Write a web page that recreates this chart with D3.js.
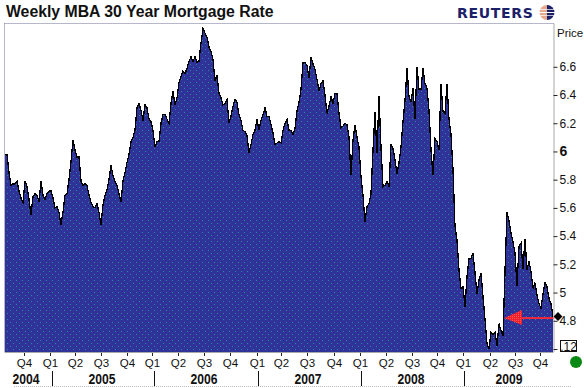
<!DOCTYPE html>
<html>
<head>
<meta charset="utf-8">
<script src="https://cdn.jsdelivr.net/npm/d3@7"></script>
<style>
body { margin: 0; background: #fff; }
text { font-family: "Liberation Sans", Arial, sans-serif; fill: #111; }
</style>
</head>
<body>
<div id="chart"><svg></svg></div>
<script>
// weekly rate
const rates = [
  5.98,5.98,5.85,5.76,5.77,5.77,5.79,5.72,5.67,5.64,5.79,5.75,5.66,5.55,5.68,5.70,
  5.69,5.64,5.79,5.69,5.66,5.70,5.72,5.72,5.67,5.60,5.61,5.57,5.48,5.57,5.69,5.70,
  5.80,5.93,6.08,6.01,5.96,5.96,5.79,5.76,5.77,5.76,5.69,5.64,5.61,5.60,5.63,5.57,
  5.48,5.62,5.69,5.73,5.80,5.90,5.83,5.79,5.76,5.70,5.64,5.79,5.85,5.92,5.98,6.07,
  6.10,6.15,6.31,6.34,6.29,6.22,6.33,6.31,6.23,6.21,6.15,6.03,6.07,6.07,6.20,6.26,
  6.26,6.23,6.20,6.34,6.43,6.33,6.38,6.49,6.53,6.57,6.55,6.59,6.64,6.67,6.64,6.67,
  6.63,6.64,6.77,6.87,6.84,6.81,6.74,
  6.71,6.65,6.50,6.54,6.41,6.38,6.33,6.34,6.37,6.20,6.25,6.32,6.37,6.35,6.26,6.22,
  6.15,6.14,6.11,5.99,6.05,6.12,6.15,6.23,6.15,6.22,6.26,6.31,6.25,6.25,6.19,6.13,
  6.05,6.06,6.07,6.06,6.15,6.20,6.23,6.15,6.15,6.12,6.16,6.29,6.35,6.44,6.63,6.63,
  6.61,6.52,
  6.67,6.62,6.58,6.51,6.43,6.48,6.50,6.40,6.27,6.32,6.39,6.34,6.41,6.41,6.27,6.17,
  6.18,6.20,6.19,6.10,5.83,6.08,6.19,6.10,6.03,5.82,5.69,5.50,5.61,5.63,5.70,6.01,
  6.28,5.99,6.39,6.03,5.75,5.76,5.79,5.75,6.05,6.02,5.94,5.84,5.92,6.03,6.21,6.36,
  6.59,6.39,
  6.35,6.45,6.23,6.60,6.44,6.44,6.59,6.48,6.45,6.29,6.01,5.83,6.09,6.07,6.01,6.48,
  6.28,6.27,6.48,6.23,6.12,5.87,5.47,5.37,5.16,5.03,5.04,4.90,5.11,5.24,5.24,5.28,
  5.14,4.99,5.09,5.14,4.97,4.81,4.64,4.60,4.72,4.70,4.72,4.62,4.78,
  4.73,4.69,5.15,5.57,5.51,5.42,5.36,5.28,5.05,5.33,5.35,5.17,5.38,5.16,5.22,5.15,
  5.03,5.07,4.98,4.92,4.89,4.99,5.07,5.04,4.96,4.92,4.83
];

const priceTicks = [6.6, 6.4, 6.2, 6, 5.8, 5.6, 5.4, 5.2, 5, 4.8, 4.6];
const quarterLabels = ["Q4","Q1","Q2","Q3","Q4","Q1","Q2","Q3","Q4","Q1","Q2","Q3","Q4","Q1","Q2","Q3","Q4","Q1","Q2","Q3","Q4"];
const quarterWeeks = [9.5,22.5,35,48,61,73.5,86.5,99.5,112.5,126,138,151,164.5,177.5,190.5,203.5,216,229,242.5,255,267.5];
const yearLabels = ["2004","2005","2006","2007","2008","2009"];
const yearWeeks = [10.5,48.5,99.5,151.5,203,252];
const yearBreaks = [23.25,74.25,126.5,178,229.5];

const width = 584, height = 388;
const plotLeft = 4.5, plotRight = 553.5, plotTop = 23.5, plotBottom = 352;

const svg = d3.select("#chart").select("svg")
  .attr("width", width).attr("height", height)
  .style("display", "block");

// dotted blue fill
const defs = svg.append("defs");
const pat = defs.append("pattern").attr("id", "dots")
  .attr("width", 6).attr("height", 6).attr("patternUnits", "userSpaceOnUse");
pat.append("rect").attr("width", 6).attr("height", 6).attr("fill", "#2f3298");
pat.append("rect").attr("x", 1).attr("y", 1).attr("width", 1).attr("height", 1).attr("fill", "#2a8a96");
pat.append("rect").attr("x", 4).attr("y", 4).attr("width", 1).attr("height", 1).attr("fill", "#2a8a96");

// dithered red for the arrow head
const redPat = defs.append("pattern").attr("id", "reddots")
  .attr("width", 2).attr("height", 2).attr("patternUnits", "userSpaceOnUse");
redPat.append("rect").attr("width", 2).attr("height", 2).attr("fill", "#f02030");
redPat.append("rect").attr("width", 1).attr("height", 1).attr("fill", "#ff5a50");

const x = d3.scaleLinear().domain([0, rates.length - 1]).range([5, 553]);
const y = d3.scaleLinear().domain([4.6, 6.6]).range([349, 66.8]);

const area = d3.area().x((d, i) => x(i)).y0(plotBottom).y1(d => y(d));
const line = d3.line().x((d, i) => x(i)).y(d => y(d));

svg.append("path").attr("d", area(rates)).attr("fill", "url(#dots)");
svg.append("path").attr("d", line(rates))
  .attr("fill", "none").attr("stroke", "#000").attr("stroke-width", 1.3)
  .attr("shape-rendering", "crispEdges");

// frame
svg.append("line").attr("x1", plotLeft).attr("x2", plotRight).attr("y1", plotTop).attr("y2", plotTop)
  .attr("stroke", "#6f6f98").attr("stroke-dasharray", "1,1");
svg.append("line").attr("x1", plotLeft).attr("x2", plotLeft).attr("y1", plotTop).attr("y2", plotBottom)
  .attr("stroke", "#6f6f98").attr("stroke-dasharray", "1,1");
svg.append("line").attr("x1", plotLeft).attr("x2", plotRight).attr("y1", plotBottom + 0.5).attr("y2", plotBottom + 0.5)
  .attr("stroke", "#a8a8a8").attr("stroke-width", 1);
svg.append("line").attr("x1", 14).attr("x2", 572).attr("y1", 386.5).attr("y2", 386.5)
  .attr("stroke", "#bbb").attr("stroke-dasharray", "1,1");

// right axis
const yAxis = d3.axisRight(y)
  .tickValues(priceTicks)
  .tickSize(4)
  .tickPadding(2)
  .tickFormat(d => d === 4.6 ? "" : String(d));
const yg = svg.append("g").attr("transform", `translate(${plotRight},0)`).call(yAxis);
yg.select(".domain").attr("d", `M0.5,${plotTop}V${plotBottom}`).attr("stroke", "#a8a8a8");
yg.selectAll(".tick line").attr("stroke", "#222");
yg.selectAll(".tick text").attr("font-size", 12).attr("font-family", "Liberation Sans").attr("fill", "#111");
yg.selectAll(".tick text").filter(d => d === 6)
  .attr("font-size", 14).attr("font-weight", "bold").attr("font-family", "Liberation Serif");

svg.append("text").attr("x", 557).attr("y", 37).attr("font-size", 11.5).text("Price");

// quarters
const xAxis = d3.axisBottom(x)
  .tickValues(quarterWeeks)
  .tickSize(3)
  .tickPadding(3)
  .tickFormat((d, i) => quarterLabels[i]);
const xg = svg.append("g").attr("transform", `translate(0,${plotBottom + 1})`).call(xAxis);
xg.select(".domain").remove();
xg.selectAll(".tick line").attr("stroke", "#222");
xg.selectAll(".tick text").attr("font-size", 11.5).attr("font-family", "Liberation Sans").attr("fill", "#222");

// years
svg.selectAll(".year").data(yearLabels).enter().append("text")
  .attr("class", "year")
  .attr("x", (d, i) => x(yearWeeks[i]))
  .attr("y", 384)
  .attr("text-anchor", "middle")
  .attr("font-size", 15)
  .attr("font-weight", "bold")
  .attr("textLength", 27)
  .attr("lengthAdjust", "spacingAndGlyphs")
  .text(d => d);
svg.selectAll(".break").data(yearBreaks).enter().append("line")
  .attr("class", "break")
  .attr("x1", d => Math.round(x(d)) + 0.5).attr("x2", d => Math.round(x(d)) + 0.5)
  .attr("y1", 371).attr("y2", 386)
  .attr("stroke", "#111");

// last value marker and arrow
const last = rates[rates.length - 1];
const arrowY = y(last) + 1.5;
const tipX = x(249.5), baseX = x(258.5);
svg.append("line").attr("x1", baseX).attr("x2", plotRight).attr("y1", arrowY).attr("y2", arrowY)
  .attr("stroke", "#f2283c").attr("stroke-width", 2);
svg.append("path")
  .attr("d", d3.line()([[tipX, arrowY], [baseX, arrowY - 8], [baseX, arrowY + 7]]) + "Z")
  .attr("fill", "url(#reddots)");
svg.append("path")
  .attr("d", d3.symbol().type(d3.symbolDiamond2).size(50)())
  .attr("transform", `translate(${plotRight + 4.5},${y(last)})`)
  .attr("fill", "#000");

// delay box
svg.append("rect").attr("x", 560.5).attr("y", 340.5).attr("width", 16).attr("height", 11)
  .attr("fill", "#fff").attr("stroke", "#111");
svg.append("text").attr("x", 568.5).attr("y", 350.5).attr("text-anchor", "middle")
  .attr("font-size", 12).text(".12");
svg.append("circle").attr("cx", 576).attr("cy", 362).attr("r", 6).attr("fill", "#0a8a14");

// title
svg.append("text").attr("x", 6).attr("y", 17).attr("font-size", 15.8)
  .attr("font-weight", "bold").attr("fill", "#111").text("Weekly MBA 30 Year Mortgage Rate");

// logo
svg.append("text").attr("x", 457).attr("y", 18)
  .style("font-family", '"DejaVu Sans", sans-serif')
  .style("fill", "#1b2068")
  .attr("font-size", 14).attr("font-weight", "bold").attr("letter-spacing", 0.7)
  .text("REUTERS");
const globe = svg.append("g").attr("transform", "translate(547,12.5)");
globe.append("path").attr("d", d3.arc().innerRadius(0).outerRadius(7.5)({ startAngle: 0, endAngle: Math.PI }))
  .attr("fill", "#1b2068");
globe.append("path").attr("d", d3.arc().innerRadius(0).outerRadius(7.5)({ startAngle: Math.PI, endAngle: 2 * Math.PI }))
  .attr("fill", "#e9a98c");
globe.append("line").attr("x1", -8).attr("x2", 8).attr("y1", 0).attr("y2", 0).attr("stroke", "#fff").attr("stroke-width", 1);
globe.append("line").attr("x1", -8).attr("x2", 8).attr("y1", -3).attr("y2", -3).attr("stroke", "#fff").attr("stroke-width", 0.7);
globe.append("line").attr("x1", -8).attr("x2", 8).attr("y1", 3).attr("y2", 3).attr("stroke", "#fff").attr("stroke-width", 0.7);
</script>
</body>
</html>
